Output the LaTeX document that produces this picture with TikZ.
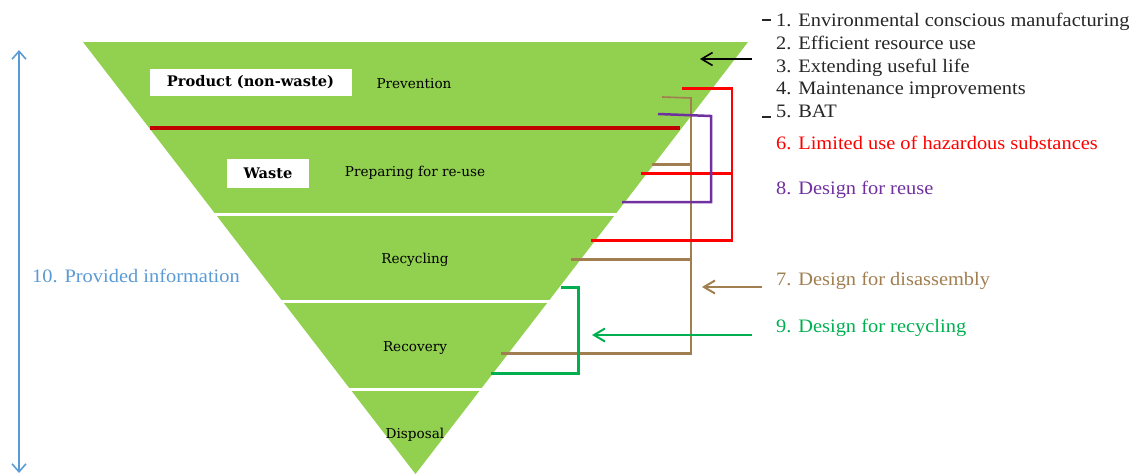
\documentclass[tikz,border=0pt]{standalone}
\usepackage{fontspec}
\setmainfont{Liberation Serif}
\newfontfamily\listfont[FakeStretch=1.075]{Liberation Serif}
\newfontfamily\pyrfont{DejaVu Serif}
\usetikzlibrary{arrows.meta}
\definecolor{pgreen}{HTML}{92D050}
\definecolor{dred}{HTML}{C00000}
\definecolor{lred}{HTML}{FF0000}
\definecolor{lpurple}{HTML}{7030A0}
\definecolor{lbrown}{HTML}{A07E50}
\definecolor{lgreen}{HTML}{00B050}
\definecolor{lblue}{HTML}{5B9BD5}
\definecolor{ltext}{HTML}{262626}
\tikzset{
  pyr/.style={font=\pyrfont\fontsize{13.6}{16}\selectfont, text=black, inner sep=0pt, anchor=base},
  tagbox/.style={fill=white, font=\pyrfont\bfseries\fontsize{14.6}{17}\selectfont, inner sep=0pt},
  listitem/.style={font=\listfont\fontsize{19}{23}\selectfont, inner sep=0pt, anchor=base west},
  sep/.style={white, line width=3pt},
  sidearrow/.style={line width=2pt, -{Straight Barb[length=11pt,width=13pt]}},
}
\begin{document}
\begin{tikzpicture}[x=1pt,y=-1pt]
\useasboundingbox (0,0) rectangle (1131,474);
% pyramid
\fill[pgreen] (83,42) -- (748,42) -- (415.5,474) -- cycle;
\draw[sep] (100,214.5) -- (720,214.5);
\draw[sep] (150,301.5) -- (650,301.5);
\draw[sep] (250,389.5) -- (560,389.5);
\draw[dred, line width=3.2pt] (150,128) -- (680,128);
% labels in pyramid
\node[tagbox, minimum width=202pt, minimum height=27pt] (prod) at (250.5,82.5) {Product (non-waste)};
\node[tagbox, minimum width=82pt, minimum height=29pt] (waste) at (268,173.5) {Waste};
\node[pyr] (prev) at (414,88) {Prevention};
\node[pyr] (prep) at (415,176) {Preparing for re-use};
\node[pyr] (recy) at (415,263) {Recycling};
\node[pyr] (reco) at (415,351) {Recovery};
\node[pyr] (disp) at (415,438) {Disposal};
% list
\node[listitem, text=ltext] (l1) at (776,26) {1. Environmental conscious manufacturing};
\node[listitem, text=ltext] (l2) at (776,49) {2. Efficient resource use};
\node[listitem, text=ltext] (l3) at (776,72) {3. Extending useful life};
\node[listitem, text=ltext] (l4) at (776,94.5) {4. Maintenance improvements};
\node[listitem, text=ltext] (l5) at (776,117) {5. BAT};
\node[listitem, text=lred] (l6) at (776,149) {6. Limited use of hazardous substances};
\node[listitem, text=lpurple] (l8) at (776,194) {8. Design for reuse};
\node[listitem, text=lbrown] (l7) at (776,285) {7. Design for disassembly};
\node[listitem, text=lgreen] (l9) at (776,332) {9. Design for recycling};
\node[listitem, text=lblue] (l10) at (32,282) {10. Provided information};
% bracket ticks for 1-5
\coordinate (t1a) at (762,20); \coordinate (t1b) at (771,20);
\coordinate (t5a) at (762,117); \coordinate (t5b) at (771,117);
\draw[ltext, line width=2.2pt] (t1a) -- (t1b);
\draw[ltext, line width=2.2pt] (t5a) -- (t5b);
% arrow 1-5
\coordinate (a1s) at (752,59); \coordinate (a1e) at (700,59);
\draw[sidearrow, black, line width=1.6pt] (a1s) -- (a1e);
% brown bracket (7)
\coordinate (bt) at (691,98);
\draw[lbrown, line width=1.6pt] (662,97) -- (bt) -- (691,353);
\draw[lbrown, line width=3pt] (652,164) -- (691,164);
\draw[lbrown, line width=3pt] (571,259) -- (691,259);
\draw[lbrown, line width=3pt] (501,353) -- (692,353);
% red bracket (6)
\draw[lred, line width=3pt] (682,88) -- (732,88);
\draw[lred, line width=2pt] (732,87) -- (732,241);
\draw[lred, line width=3pt] (641,173) -- (732,173);
\draw[lred, line width=3pt] (591,240) -- (733,240);
% purple bracket (8)
\draw[lpurple, line width=2.5pt] (658,114) -- (711,116) -- (711,202) -- (622,202);
% green bracket (9)
\draw[lgreen, line width=3pt] (561,287) -- (580,287);
\draw[lgreen, line width=3pt] (578,286) -- (578,374);
\draw[lgreen, line width=3pt] (491,373) -- (580,373);
% side arrows
\coordinate (a7s) at (762,287); \coordinate (a7e) at (702,287);
\draw[sidearrow, lbrown] (a7s) -- (a7e);
\coordinate (a9s) at (752,335); \coordinate (a9e) at (592,335);
\draw[sidearrow, lgreen] (a9s) -- (a9e);
% blue double arrow (10)
\coordinate (bu) at (19,50); \coordinate (bd) at (19,473);
\draw[lblue, line width=1.6pt, {Straight Barb[length=8pt,width=14pt]}-{Straight Barb[length=8pt,width=14pt]}] (bu) -- (bd);
\end{tikzpicture}
\end{document}
